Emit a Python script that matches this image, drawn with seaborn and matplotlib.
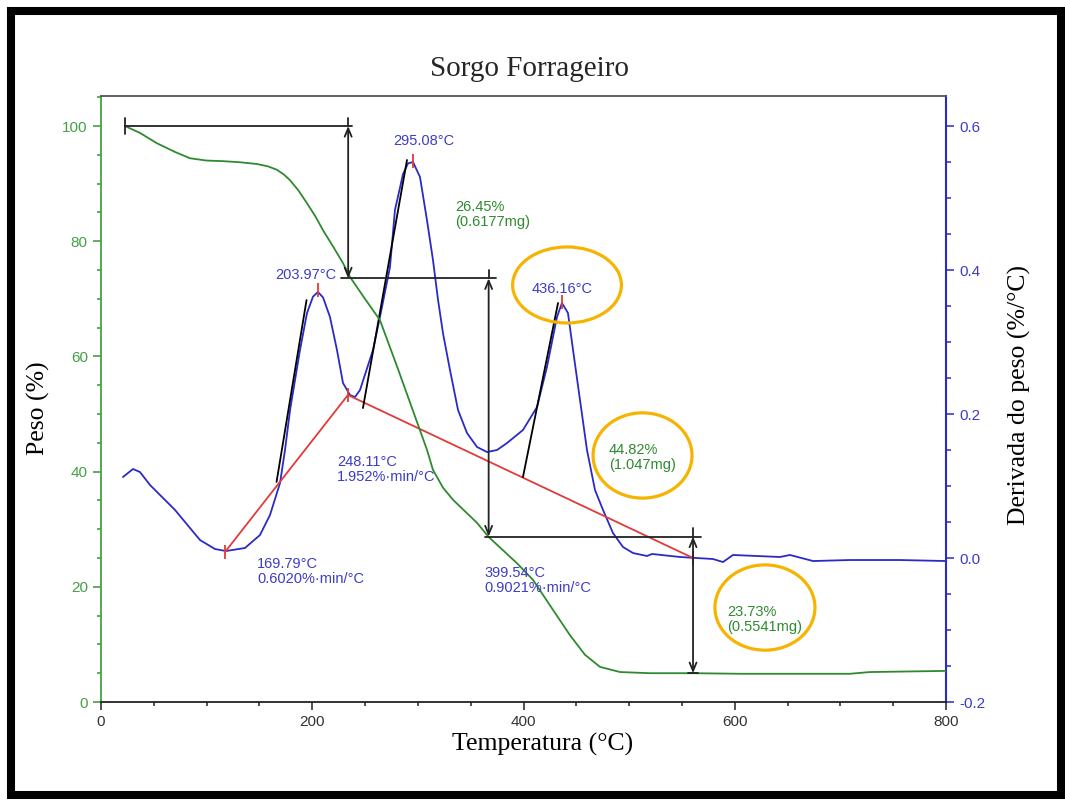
# -*- coding: utf-8 -*-
"""
TGA / DTG curve, Sorgo Forrageiro
"""

import numpy as np
import pandas as pd
import matplotlib
matplotlib.use('Agg')
import matplotlib.pyplot as plt
from matplotlib.patches import Ellipse, Rectangle
from matplotlib.ticker import MultipleLocator
import seaborn as sns

# ---- data ----
# weight curve (left axis, %)
tga_temp = [22.7, 36.9, 53.0, 70.0, 84.3, 100.0, 115.5, 132.0, 147.7, 158.0, 166.6, 173.0,
            178.9, 187.0, 195.0, 203.0, 210.2, 220.0, 229.1, 235.7, 249.9, 264.1, 281.2,
            299.2, 308.6, 314.3, 323.8, 333.3, 356.0, 367.3, 393.8, 409.0, 427.9, 444.0,
            458.2, 472.4, 491.4, 519.8, 560.5, 605.0, 709.0, 728.0, 800.0]
tga_weight = [100.0, 98.8, 97.0, 95.5, 94.4, 94.0, 93.9, 93.7, 93.4, 93.0, 92.4, 91.6,
              90.6, 88.8, 86.6, 84.3, 81.9, 79.0, 76.2, 73.8, 70.0, 66.3, 57.8,
              48.6, 43.8, 40.3, 37.2, 35.1, 31.1, 28.6, 24.1, 21.2, 16.0, 11.6,
              8.2, 6.1, 5.2, 5.0, 5.0, 4.9, 4.9, 5.2, 5.4]

# derivative curve (right axis, %/°C)
dtg_temp = [20.8, 30.3, 36.9, 46.4, 70.1, 93.7, 107.9, 118.3, 136.3, 150.5, 160.0, 169.5,
            174.2, 179.0, 188.4, 195.0, 200.7, 205.4, 210.2, 216.8, 223.4, 229.1, 235.7,
            240.5, 245.2, 257.5, 264.1, 273.6, 278.3, 285.9, 290.6, 295.4, 302.0, 308.6,
            314.3, 319.1, 323.8, 330.4, 338.0, 346.5, 356.0, 365.4, 374.9, 384.4, 399.5,
            412.8, 422.2, 431.7, 436.4, 442.1, 446.9, 453.5, 460.1, 467.7, 475.3, 484.7,
            494.2, 503.7, 516.9, 521.7, 548.2, 579.4, 588.9, 598.3, 642.8, 652.3, 674.1,
            709.1, 756.4, 800.0]
dtg_value = [0.1125, 0.1236, 0.1194, 0.1014, 0.0667, 0.0250, 0.0125, 0.0097, 0.0139, 0.0319,
             0.0597, 0.1042, 0.1500, 0.2056, 0.2889, 0.3400, 0.3630, 0.3694, 0.3620, 0.3347,
             0.2889, 0.2431, 0.2264, 0.2236, 0.2333, 0.2889, 0.3347, 0.4042, 0.4833, 0.5330,
             0.5480, 0.5500, 0.5292, 0.4694, 0.4139, 0.3583, 0.3120, 0.2611, 0.2056, 0.1736,
             0.1542, 0.1472, 0.1500, 0.1597, 0.1778, 0.2097, 0.2653, 0.3347, 0.3542, 0.3403,
             0.2889, 0.2194, 0.1500, 0.0944, 0.0667, 0.0347, 0.0153, 0.0069, 0.0028, 0.0056,
             0.0014, -0.0014, -0.0056, 0.0042, 0.0014, 0.0042, -0.0042, -0.0028, -0.0028, -0.0042]

# baseline (red) and peak marks
base_temp = [117.4, 233.8, 560.5]
base_value = [0.0083, 0.2264, 0.0]
peak_temp = [205.4, 295.4, 436.4]
peak_value = [0.372, 0.552, 0.356]

# tangent lines (black), one pair of points each
tangents = [([166.2, 194.6], [0.1056, 0.3583]),
            ([248.0, 289.7], [0.2083, 0.5528]),
            ([399.5, 432.7], [0.1125, 0.3542])]

# mass loss steps
step_temp = [234.0, 367.0, 560.5]
step_levels = [100.0, 73.55, 28.73, 5.0]
step_hline_from = [22.7, 227.0, 364.0, 556.0]
step_hline_to = [237.7, 374.0, 568.0, 565.0]

# annotations
blue_labels = ['295.08°C', '203.97°C', '436.16°C', '248.11°C\n1.952%·min/°C',
               '169.79°C\n0.6020%·min/°C', '399.54°C\n0.9021%·min/°C']
blue_pos = [(276.4, 97.4), (164.7, 74.1), (408.0, 71.7), (223.4, 40.3),
            (147.7, 22.7), (362.6, 21.1)]
green_labels = ['26.45%\n(0.6177mg)', '44.82%\n(1.047mg)', '23.73%\n(0.5541mg)']
green_pos = [(335.1, 84.6), (480.9, 42.4), (592.7, 14.4)]

# highlight ellipses: centre T, centre W, width (°C), height (%)
circles = [(441.2, 72.4, 103.0, 13.2), (512.7, 42.8, 93.7, 14.8), (628.6, 16.4, 94.7, 14.8)]

GREEN = '#2f8a2f'
GREEN_AX = '#45a045'
BLUE = '#2a2ac8'
BLUE_TXT = '#3c3cc8'
RED = '#e23a3a'
ORANGE = '#f6b400'

sns.set_style('ticks')
plt.rcParams['font.family'] = ['Liberation Sans', 'DejaVu Sans']
serif = ['Liberation Serif', 'DejaVu Serif']

fig = plt.figure(figsize=(10.65, 8), dpi=100)
ax = fig.add_axes([101 / 1065, 98 / 800, 845 / 1065, 606 / 800])
ax2 = ax.twinx()

tga = pd.DataFrame({'T': tga_temp, 'W': tga_weight})
dtg = pd.DataFrame({'T': dtg_temp, 'D': dtg_value})

sns.lineplot(data=dtg, x='T', y='D', ax=ax2, color=BLUE, lw=1.3, sort=False, estimator=None)
ax2.plot(base_temp, base_value, color=RED, lw=1.3)
ax2.plot(base_temp, base_value, ls='none', marker='|', ms=10, mew=1.3, color=RED)
ax2.plot(peak_temp, peak_value, ls='none', marker='|', ms=10, mew=1.3, color=RED)
for tx, ty in tangents:
    ax2.plot(tx, ty, color='black', lw=1.3)

sns.lineplot(data=tga, x='T', y='W', ax=ax, color=GREEN, lw=1.3, sort=False, estimator=None)

# step arrows
for lvl, x0, x1 in zip(step_levels, step_hline_from, step_hline_to):
    ax.plot([x0, x1], [lvl, lvl], color='#222222', lw=1.3)
ax.plot([step_hline_from[0], step_hline_from[0]], [101.4, 98.6], color='#222222', lw=1.3)
for i, t in enumerate(step_temp):
    top, bot = step_levels[i], step_levels[i + 1]
    ax.plot([t, t], [top, top + 1.4], color='#222222', lw=1.3)
    ax.annotate('', xy=(t, bot), xytext=(t, top),
                arrowprops=dict(arrowstyle='<->,head_length=0.6,head_width=0.25',
                                color='#222222', lw=1.3, shrinkA=0, shrinkB=0))

for s, (x, y) in zip(blue_labels, blue_pos):
    ax.text(x, y, s, color=BLUE_TXT, fontsize=10.5, ha='left', va='center', linespacing=1.1)
for s, (x, y) in zip(green_labels, green_pos):
    ax.text(x, y, s, color=GREEN, fontsize=10.5, ha='left', va='center', linespacing=1.1)

for cx, cy, w, h in circles:
    ax.add_patch(Ellipse((cx, cy), w, h, fill=False, edgecolor=ORANGE, lw=2.3))

ax.set_zorder(ax2.get_zorder() + 1)
ax.patch.set_visible(False)

ax.set_xlim(0, 800)
ax.set_ylim(0, 105.21)
ax2.set_ylim(-0.2, 0.6417)

ax.xaxis.set_major_locator(MultipleLocator(200))
ax.xaxis.set_minor_locator(MultipleLocator(50))
ax.yaxis.set_major_locator(MultipleLocator(20))
ax.yaxis.set_minor_locator(MultipleLocator(5))
ax2.yaxis.set_major_locator(MultipleLocator(0.2))
ax2.yaxis.set_minor_locator(MultipleLocator(0.05))
ax2.yaxis.set_major_formatter(matplotlib.ticker.FormatStrFormatter('%.1f'))

ax.tick_params(axis='x', which='both', colors='#333333', labelsize=11, direction='out')
ax.tick_params(axis='x', which='major', length=6, width=1.2)
ax.tick_params(axis='x', which='minor', length=3, width=1.2)
ax.tick_params(axis='y', which='both', colors=GREEN_AX, labelsize=11, direction='out')
ax.tick_params(axis='y', which='major', length=6, width=1.2)
ax.tick_params(axis='y', which='minor', length=3, width=1.2)
ax2.tick_params(axis='y', which='both', colors=BLUE_TXT, labelsize=11, direction='out')
ax2.tick_params(axis='y', which='major', length=6, width=1.2)
ax2.tick_params(axis='y', which='minor', length=3.5, width=1.2)

ax.spines['left'].set_color(GREEN_AX)
ax.spines['bottom'].set_color('#222222')
ax.spines['top'].set_color('#555555')
ax.spines['right'].set_visible(False)
for side in ['left', 'top', 'bottom']:
    ax2.spines[side].set_visible(False)
ax2.spines['right'].set_color(BLUE)
for sp in ax.spines.values():
    sp.set_linewidth(1.3)
ax2.spines['right'].set_linewidth(1.5)

ax.set_xlabel('Temperatura (°C)', fontsize=18.5, family=serif, color='black')
ax.set_ylabel('Peso (%)', fontsize=18.5, family=serif, color='black')
ax2.set_ylabel('Derivada do peso (%/°C)', fontsize=18.5, family=serif, color='black')
ax.xaxis.set_label_coords(0.523, -0.051)
ax.yaxis.set_label_coords(-0.060, 0.485)
ax2.yaxis.set_label_coords(1.073, 0.507)

fig.text(529 / 1065, 1 - 69 / 800, 'Sorgo Forrageiro', ha='center', va='center',
         fontsize=21, family=serif)

# black frame around the whole picture
fig.patches.append(Rectangle((11 / 1065, 5 / 800), 1050 / 1065, 784 / 800, transform=fig.transFigure,
                             fill=False, edgecolor='black', lw=5.8))

fig.savefig('out.png', dpi=100)
